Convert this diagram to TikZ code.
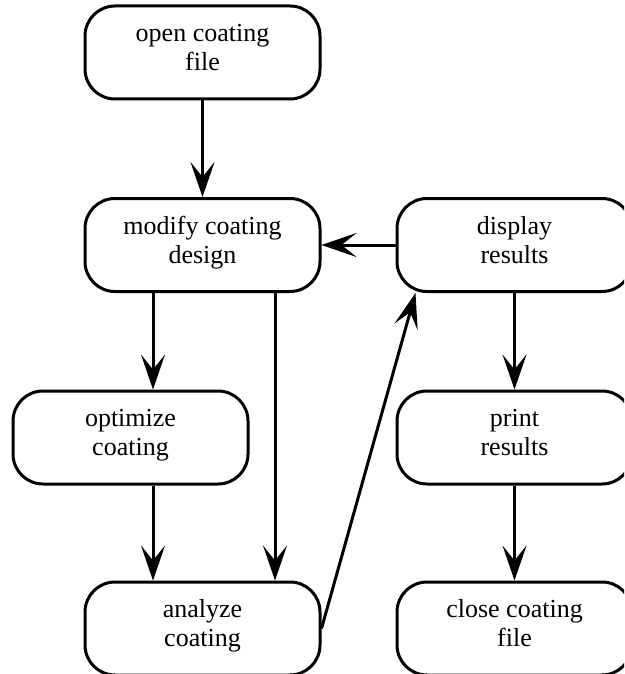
\documentclass[tikz,border=0pt]{standalone}
\usepackage{fontspec}
\setmainfont{Liberation Serif}
\usetikzlibrary{arrows.meta,calc}
\begin{document}
\begin{tikzpicture}[x=1pt,y=-1pt,
  box/.style={draw,line width=3pt,rounded corners=30pt,minimum width=235pt,minimum height=93pt,
    inner sep=0pt,align=center,text depth=11pt,font=\fontsize{26pt}{29pt}\selectfont},
  arr/.style={line width=3pt,-{Stealth[length=35pt,width=24pt,inset=15pt]}}]
\useasboundingbox (0,0) rectangle (624,674);
\clip (0,0) rectangle (624,674);
\node[box] (open) at (202.5,52.5) {open coating\\file};
\node[box] (modify) at (202.5,245) {modify coating\\design};
\node[box] (display) at (514.5,245) {display\\results};
\node[box] (optimize) at (130.5,437.5) {optimize\\coating};
\node[box] (print) at (514.5,437.5) {print\\results};
\node[box] (analyze) at (202.5,628.5) {analyze\\coating};
\node[box] (close) at (514.5,628.5) {close coating\\file};
\coordinate (xa) at (153,0);
\coordinate (xb) at (275,0);
\coordinate (dtip) at ([xshift=20pt]display.south west);
\draw[arr] (open) -- (modify);
\draw[arr] (display) -- (modify);
\draw[arr] (modify.south -| xa) -- (optimize.north -| xa);
\draw[arr] (optimize.south -| xa) -- (analyze.north -| xa);
\draw[arr] (modify.south -| xb) -- (analyze.north -| xb);
\draw[arr] (analyze.east) -- (dtip);
\draw[arr] (display) -- (print);
\draw[arr] (print) -- (close);
\end{tikzpicture}
\end{document}
